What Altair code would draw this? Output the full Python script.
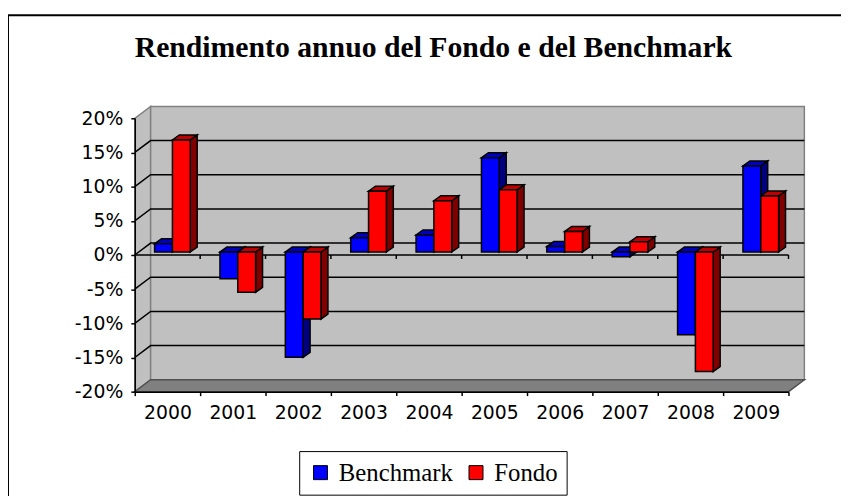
import altair as alt
import pandas as pd

# ---- data ----
title_text = ["Rendimento annuo del Fondo e del Benchmark"]
years = ["2000", "2001", "2002", "2003", "2004", "2005", "2006", "2007", "2008", "2009"]
benchmark = [1.2, -3.9, -15.4, 2.1, 2.5, 13.8, 0.8, -0.7, -12.1, 12.6]
fondo = [16.4, -5.9, -9.8, 8.9, 7.5, 9.1, 3.0, 1.5, -17.5, 8.2]
series_names = ["Benchmark", "Fondo"]
y_ticks = [-20, -15, -10, -5, 0, 5, 10, 15, 20]
grid_values = [-15, -10, -5, 0, 5, 10, 15]

# ---- geometry / style (plot area in px) ----
W, H = 660, 276
Y_MIN, Y_MAX = -20, 20
NCAT = len(years)
UX = NCAT / W             # data units per px (x)
UY = (Y_MAX - Y_MIN) / H  # data units per px (y)
DEPTH_X, DEPTH_Y = 16 * UX, 12 * UY    # wall depth
FACE_X, FACE_Y = 5 * UX, 3 * UY        # bar front-face depth shift
BAR_W = 18 * UX
BAR_DX, BAR_DY = 7 * UX, 5 * UY        # bar depth

front_col = {"Benchmark": "#0000FF", "Fondo": "#FF0000"}
top_col = {"Benchmark": "#0000C0", "Fondo": "#C00000"}
side_col = {"Benchmark": "#000080", "Fondo": "#800000"}

xs = alt.Scale(domain=[0, NCAT], nice=False, zero=False)
ys = alt.Scale(domain=[Y_MIN, Y_MAX], nice=False, zero=False)

year_js = "[" + ",".join("'%s'" % y for y in years) + "]"
AX = alt.Axis(title=None, values=list(range(NCAT + 1)),
              labelExpr=year_js + "[datum.value] || ''",
              labelOffset=W / NCAT / 2, labelFlush=False, labelOverlap=False,
              tickSize=4, tickWidth=1.5, tickColor="black",
              domainColor="black", domainWidth=1.5,
              labelFont="DejaVu Sans", labelFontSize=19, labelColor="black",
              labelPadding=8, grid=False, zindex=1)
AY = alt.Axis(title=None, values=y_ticks, labelExpr="datum.value + '%'",
              tickSize=4, tickWidth=1.5, tickColor="black",
              domainColor="black", domainWidth=1.5,
              labelFont="DejaVu Sans", labelFontSize=19, labelColor="black",
              labelPadding=8, grid=False, zindex=1)


def X(f="x"):
    return alt.X(f, type="quantitative", scale=xs, axis=AX)


def Y(f="y"):
    return alt.Y(f, type="quantitative", scale=ys, axis=AY, stack=None)


# ---- frame (walls, floor, gridlines) ----
side_wall = pd.DataFrame({"x": [0, DEPTH_X],
                          "y": [Y_MIN, Y_MIN + DEPTH_Y],
                          "y2": [Y_MAX, Y_MAX + DEPTH_Y]})
back_wall = pd.DataFrame({"x": [DEPTH_X], "x2": [NCAT + DEPTH_X],
                          "y": [Y_MIN + DEPTH_Y], "y2": [Y_MAX + DEPTH_Y]})
floor = pd.DataFrame({"x": [0, DEPTH_X, NCAT, NCAT + DEPTH_X],
                      "y": [Y_MIN, Y_MIN, Y_MIN, Y_MIN + DEPTH_Y],
                      "y2": [Y_MIN, Y_MIN + DEPTH_Y, Y_MIN + DEPTH_Y, Y_MIN + DEPTH_Y]})
grid_rows = []
for v in grid_values:
    grid_rows += [{"g": v, "o": 0, "x": 0, "y": v},
                  {"g": v, "o": 1, "x": DEPTH_X, "y": v + DEPTH_Y},
                  {"g": v, "o": 2, "x": NCAT + DEPTH_X, "y": v + DEPTH_Y}]
grid = pd.DataFrame(grid_rows)
zero_line = pd.DataFrame({"x": [0], "x2": [NCAT], "y": [0]})
zero_ticks = pd.DataFrame({"x": list(range(1, NCAT + 1)),
                           "y": [0] * NCAT, "y2": [-4 * UY] * NCAT})

# ---- bars ----
fronts, sides, tops = [], {}, {}
for k, (name, vals) in enumerate(zip(series_names, [benchmark, fondo])):
    srows, trows = [], []
    for i, v in enumerate(vals):
        x0 = i + 0.5 + FACE_X - BAR_W + k * BAR_W
        x1 = x0 + BAR_W
        base = FACE_Y
        top = v + FACE_Y
        bid = "%s-%d" % (name, i)
        fronts.append({"series": name, "x": x0, "x2": x1, "y": base, "y2": top})
        srows += [{"id": bid, "x": x1, "y": base, "y2": top},
                  {"id": bid, "x": x1 + BAR_DX, "y": base + BAR_DY, "y2": top + BAR_DY}]
        L = max(v, 0) + FACE_Y
        trows += [{"id": bid, "x": x0, "y": L, "y2": L},
                  {"id": bid, "x": x0 + BAR_DX, "y": L, "y2": L + BAR_DY},
                  {"id": bid, "x": x1, "y": L, "y2": L + BAR_DY},
                  {"id": bid, "x": x1 + BAR_DX, "y": L + BAR_DY, "y2": L + BAR_DY}]
    sides[name] = pd.DataFrame(srows)
    tops[name] = pd.DataFrame(trows)
fronts = pd.DataFrame(fronts)

layers = []

# outer chart border
layers.append(alt.Chart(pd.DataFrame({"a": [0]})).mark_rect(
    fill="white", stroke="black", strokeWidth=2).encode(
    x=alt.value(-128), x2=alt.value(760), y=alt.value(-104), y2=alt.value(450)))

# chart title
layers.append(alt.Chart(pd.DataFrame({"t": title_text})).mark_text(
    font="Liberation Serif", fontSize=30, fontWeight="bold", color="black",
    align="center", baseline="alphabetic").encode(
    text="t:N", x=alt.value(301.5), y=alt.value(-62)))

layers.append(alt.Chart(side_wall).mark_area(
    fill="#C0C0C0", stroke="#808080", strokeWidth=1.5).encode(
    x=X(), y=Y(), y2="y2"))
layers.append(alt.Chart(back_wall).mark_rect(
    fill="#C0C0C0", stroke="#808080", strokeWidth=1.5).encode(
    x=X(), x2="x2", y=Y(), y2="y2"))
layers.append(alt.Chart(floor).mark_area(
    fill="#808080", stroke="#505050", strokeWidth=1.5).encode(
    x=X(), y=Y(), y2="y2"))
layers.append(alt.Chart(grid).mark_line(color="black", strokeWidth=1.5).encode(
    x=X(), y=Y(), detail="g:N", order="o:Q"))
layers.append(alt.Chart(zero_line).mark_rule(color="black", strokeWidth=1.5).encode(
    x=X(), x2="x2", y=Y()))
layers.append(alt.Chart(zero_ticks).mark_rule(color="black", strokeWidth=1.5).encode(
    x=X(), y=Y(), y2="y2"))

for name in series_names:
    layers.append(alt.Chart(sides[name]).mark_area(
        fill=side_col[name], stroke="black", strokeWidth=1.5).encode(
        x=X(), y=Y(), y2="y2", detail="id:N"))
for name in series_names:
    layers.append(alt.Chart(tops[name]).mark_area(
        fill=top_col[name], stroke="black", strokeWidth=1.5).encode(
        x=X(), y=Y(), y2="y2", detail="id:N"))

layers.append(alt.Chart(fronts).mark_rect(stroke="black", strokeWidth=1.5).encode(
    x=X(), x2="x2", y=Y(), y2="y2",
    color=alt.Color("series:N",
                    scale=alt.Scale(domain=series_names,
                                    range=[front_col[s] for s in series_names]),
                    legend=alt.Legend(orient="none", legendX=166, legendY=336,
                                      direction="horizontal", title=None,
                                      symbolType="square", symbolSize=200,
                                      symbolStrokeColor="black", symbolStrokeWidth=1,
                                      symbolOpacity=1,
                                      labelFont="Liberation Serif", labelFontSize=25,
                                      labelColor="black", labelOffset=6,
                                      columnPadding=10, padding=9,
                                      strokeColor="black", fillColor="white"))))

chart = alt.layer(*layers).properties(
    width=W, height=H,
    autosize=alt.AutoSizeParams(type="none"),
    padding={"left": 128, "top": 109, "right": 53, "bottom": 103},
).configure_view(stroke=None).configure(background="white")

chart.save("out.html", embed_options={"renderer": "svg", "actions": False})
